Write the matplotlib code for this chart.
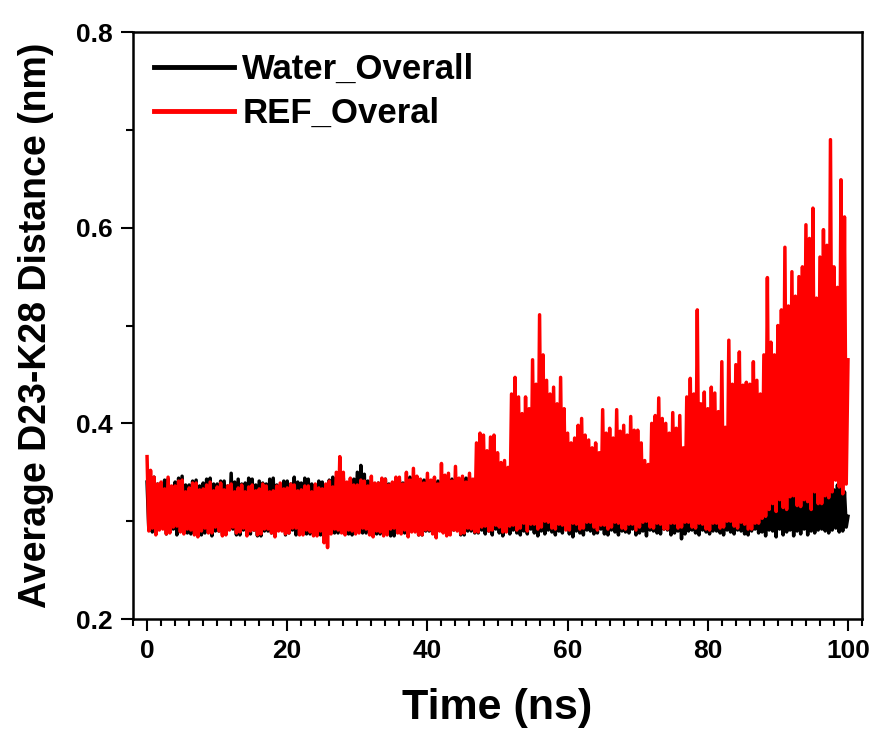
import matplotlib.pyplot as plt
import numpy as np
from matplotlib.ticker import MultipleLocator, FormatStrFormatter

plt.rcParams['font.family'] = ['Liberation Sans', 'DejaVu Sans']
plt.rcParams['font.weight'] = 'bold'

# distance, one value every 0.25 ns (one row = 2 ns)
water = [
    0.340, 0.292, 0.336, 0.289, 0.345, 0.288, 0.338, 0.293,
    0.338, 0.294, 0.342, 0.287, 0.343, 0.289, 0.335, 0.292,
    0.340, 0.286, 0.344, 0.290, 0.346, 0.291, 0.337, 0.288,
    0.337, 0.287, 0.341, 0.293, 0.342, 0.293, 0.336, 0.286,
    0.339, 0.288, 0.343, 0.291, 0.344, 0.285, 0.338, 0.290,
    0.338, 0.290, 0.341, 0.287, 0.341, 0.287, 0.336, 0.292,
    0.349, 0.292, 0.340, 0.286, 0.343, 0.286, 0.338, 0.291,
    0.339, 0.289, 0.344, 0.287, 0.343, 0.291, 0.337, 0.285,
    0.341, 0.285, 0.339, 0.290, 0.338, 0.290, 0.343, 0.288,
    0.344, 0.287, 0.337, 0.292, 0.337, 0.292, 0.341, 0.286,
    0.341, 0.288, 0.338, 0.291, 0.345, 0.286, 0.340, 0.289,
    0.339, 0.291, 0.344, 0.287, 0.343, 0.287, 0.338, 0.292,
    0.336, 0.290, 0.341, 0.286, 0.340, 0.285, 0.337, 0.290,
    0.342, 0.291, 0.345, 0.288, 0.338, 0.288, 0.342, 0.292,
    0.344, 0.292, 0.339, 0.287, 0.340, 0.286, 0.343, 0.290,
    0.350, 0.290, 0.357, 0.288, 0.348, 0.288, 0.341, 0.293,
    0.341, 0.293, 0.337, 0.287, 0.339, 0.287, 0.343, 0.290,
    0.343, 0.290, 0.338, 0.285, 0.338, 0.285, 0.342, 0.291,
    0.342, 0.291, 0.339, 0.288, 0.340, 0.288, 0.345, 0.292,
    0.345, 0.292, 0.338, 0.286, 0.339, 0.286, 0.342, 0.290,
    0.343, 0.290, 0.337, 0.288, 0.337, 0.288, 0.341, 0.293,
    0.341, 0.293, 0.338, 0.287, 0.338, 0.287, 0.343, 0.291,
    0.342, 0.291, 0.339, 0.286, 0.339, 0.286, 0.344, 0.290,
    0.345, 0.290, 0.337, 0.288, 0.322, 0.288, 0.326, 0.291,
    0.320, 0.287, 0.324, 0.290, 0.318, 0.286, 0.327, 0.292,
    0.321, 0.288, 0.325, 0.285, 0.319, 0.290, 0.323, 0.287,
    0.328, 0.291, 0.320, 0.288, 0.324, 0.286, 0.322, 0.290,
    0.326, 0.287, 0.319, 0.292, 0.325, 0.288, 0.321, 0.285,
    0.327, 0.290, 0.323, 0.287, 0.320, 0.291, 0.326, 0.289,
    0.322, 0.286, 0.324, 0.290, 0.319, 0.288, 0.325, 0.292,
    0.321, 0.287, 0.328, 0.284, 0.323, 0.290, 0.320, 0.288,
    0.326, 0.286, 0.322, 0.291, 0.324, 0.290, 0.319, 0.287,
    0.327, 0.288, 0.325, 0.292, 0.321, 0.287, 0.323, 0.286,
    0.325, 0.291, 0.320, 0.289, 0.322, 0.286, 0.326, 0.290,
    0.320, 0.289, 0.324, 0.288, 0.326, 0.292, 0.321, 0.286,
    0.323, 0.288, 0.327, 0.290, 0.319, 0.285, 0.322, 0.291,
    0.324, 0.290, 0.320, 0.288, 0.321, 0.287, 0.325, 0.292,
    0.327, 0.291, 0.323, 0.286, 0.320, 0.288, 0.326, 0.290,
    0.325, 0.282, 0.322, 0.287, 0.323, 0.290, 0.319, 0.291,
    0.326, 0.288, 0.324, 0.286, 0.321, 0.291, 0.327, 0.289,
    0.324, 0.287, 0.320, 0.290, 0.322, 0.290, 0.325, 0.288,
    0.328, 0.286, 0.321, 0.291, 0.320, 0.289, 0.326, 0.287,
    0.325, 0.291, 0.322, 0.290, 0.323, 0.287, 0.327, 0.286,
    0.321, 0.290, 0.324, 0.292, 0.326, 0.288, 0.320, 0.289,
    0.330, 0.285, 0.334, 0.291, 0.337, 0.290, 0.332, 0.284,
    0.336, 0.292, 0.331, 0.286, 0.338, 0.289, 0.333, 0.291,
    0.336, 0.285, 0.330, 0.290, 0.337, 0.287, 0.334, 0.292,
    0.338, 0.286, 0.332, 0.290, 0.336, 0.288, 0.333, 0.291,
    0.331, 0.292, 0.335, 0.290, 0.330, 0.288, 0.336, 0.291,
    0.332, 0.293, 0.337, 0.289, 0.335, 0.290, 0.330, 0.294,
    0.305,
]

ref = [
    0.366, 0.290, 0.352, 0.293, 0.345, 0.286, 0.338, 0.291,
    0.340, 0.292, 0.333, 0.287, 0.345, 0.288, 0.336, 0.294,
    0.336, 0.295, 0.341, 0.289, 0.342, 0.287, 0.330, 0.292,
    0.334, 0.291, 0.339, 0.286, 0.339, 0.284, 0.332, 0.290,
    0.333, 0.293, 0.337, 0.288, 0.340, 0.288, 0.331, 0.294,
    0.335, 0.290, 0.339, 0.285, 0.332, 0.286, 0.336, 0.291,
    0.338, 0.294, 0.330, 0.288, 0.334, 0.289, 0.337, 0.293,
    0.330, 0.285, 0.335, 0.290, 0.337, 0.291, 0.331, 0.286,
    0.333, 0.287, 0.338, 0.292, 0.336, 0.292, 0.330, 0.288,
    0.331, 0.284, 0.336, 0.290, 0.339, 0.290, 0.333, 0.287,
    0.334, 0.288, 0.338, 0.293, 0.337, 0.293, 0.331, 0.286,
    0.332, 0.286, 0.336, 0.291, 0.336, 0.289, 0.330, 0.285,
    0.338, 0.285, 0.334, 0.290, 0.333, 0.278, 0.338, 0.273,
    0.341, 0.287, 0.335, 0.292, 0.350, 0.291, 0.366, 0.288,
    0.350, 0.286, 0.340, 0.291, 0.344, 0.290, 0.337, 0.287,
    0.337, 0.288, 0.342, 0.293, 0.341, 0.292, 0.336, 0.286,
    0.346, 0.284, 0.339, 0.290, 0.339, 0.289, 0.344, 0.285,
    0.343, 0.286, 0.337, 0.292, 0.340, 0.293, 0.345, 0.288,
    0.345, 0.287, 0.338, 0.291, 0.350, 0.284, 0.342, 0.289,
    0.354, 0.289, 0.346, 0.286, 0.343, 0.286, 0.339, 0.291,
    0.349, 0.291, 0.342, 0.287, 0.345, 0.283, 0.338, 0.290,
    0.359, 0.288, 0.347, 0.285, 0.349, 0.286, 0.341, 0.291,
    0.356, 0.290, 0.344, 0.287, 0.346, 0.288, 0.340, 0.293,
    0.349, 0.292, 0.343, 0.289, 0.380, 0.289, 0.390, 0.294,
    0.388, 0.295, 0.372, 0.290, 0.386, 0.291, 0.388, 0.296,
    0.370, 0.294, 0.360, 0.289, 0.362, 0.289, 0.355, 0.295,
    0.430, 0.296, 0.447, 0.291, 0.427, 0.293, 0.410, 0.298,
    0.427, 0.290, 0.415, 0.297, 0.465, 0.297, 0.440, 0.292,
    0.511, 0.294, 0.470, 0.300, 0.444, 0.299, 0.430, 0.293,
    0.437, 0.292, 0.420, 0.297, 0.447, 0.296, 0.415, 0.291,
    0.390, 0.291, 0.380, 0.298, 0.385, 0.297, 0.398, 0.292,
    0.405, 0.293, 0.388, 0.299, 0.383, 0.299, 0.375, 0.294,
    0.380, 0.291, 0.370, 0.296, 0.414, 0.296, 0.390, 0.292,
    0.395, 0.294, 0.385, 0.299, 0.414, 0.298, 0.392, 0.293,
    0.398, 0.292, 0.388, 0.297, 0.407, 0.297, 0.393, 0.291,
    0.393, 0.294, 0.380, 0.299, 0.362, 0.300, 0.358, 0.294,
    0.400, 0.293, 0.408, 0.298, 0.426, 0.297, 0.405, 0.292,
    0.400, 0.292, 0.390, 0.298, 0.411, 0.298, 0.395, 0.293,
    0.408, 0.294, 0.375, 0.299, 0.427, 0.299, 0.446, 0.294,
    0.430, 0.293, 0.516, 0.298, 0.420, 0.297, 0.432, 0.292,
    0.415, 0.291, 0.437, 0.298, 0.431, 0.298, 0.412, 0.293,
    0.463, 0.294, 0.396, 0.300, 0.485, 0.300, 0.440, 0.295,
    0.460, 0.293, 0.473, 0.299, 0.439, 0.297, 0.442, 0.292,
    0.440, 0.292, 0.463, 0.298, 0.444, 0.298, 0.430, 0.303,
    0.470, 0.305, 0.549, 0.312, 0.483, 0.318, 0.470, 0.310,
    0.500, 0.322, 0.516, 0.314, 0.580, 0.312, 0.520, 0.325,
    0.555, 0.326, 0.530, 0.316, 0.550, 0.315, 0.560, 0.322,
    0.603, 0.320, 0.589, 0.312, 0.620, 0.330, 0.528, 0.318,
    0.570, 0.318, 0.598, 0.326, 0.582, 0.324, 0.690, 0.330,
    0.560, 0.342, 0.539, 0.335, 0.649, 0.328, 0.611, 0.338,
    0.465,
]

time = np.linspace(0, 100, len(ref))

fig = plt.figure(figsize=(8.77, 7.38), dpi=100)
ax = fig.add_axes([0.1517, 0.1612, 0.8312, 0.7954])

ax.plot(time, water, color='black', lw=2.5, label='Water_Overall')
ax.plot(time, ref, color='red', lw=2.5, label='REF_Overal')

ax.set_xlim(-2, 102)
ax.set_ylim(0.2, 0.8)
ax.xaxis.set_major_locator(MultipleLocator(20))
ax.xaxis.set_minor_locator(MultipleLocator(2))
ax.yaxis.set_major_locator(MultipleLocator(0.2))
ax.yaxis.set_minor_locator(MultipleLocator(0.1))
ax.yaxis.set_major_formatter(FormatStrFormatter('%.1f'))

ax.tick_params(which='both', direction='out', width=1.5, labelsize=19)
ax.tick_params(which='major', length=8.5)
ax.tick_params(which='minor', length=5)
ax.tick_params(axis='x', pad=6)
ax.tick_params(axis='y', pad=6)
for s in ax.spines.values():
    s.set_linewidth(1.8)

ax.set_xlabel('Time (ns)', fontsize=31, fontweight='bold', labelpad=18)
ax.set_ylabel('Average D23-K28 Distance (nm)', fontsize=27, fontweight='bold', labelpad=16)

leg = ax.legend(loc='upper left', frameon=False, fontsize=25, handlelength=2.3,
                handletextpad=0.25, labelspacing=0.32, borderaxespad=0.2,
                borderpad=0.4)
for h in leg.get_lines():
    h.set_linewidth(3.5)

fig.savefig('out.png', dpi=100)
